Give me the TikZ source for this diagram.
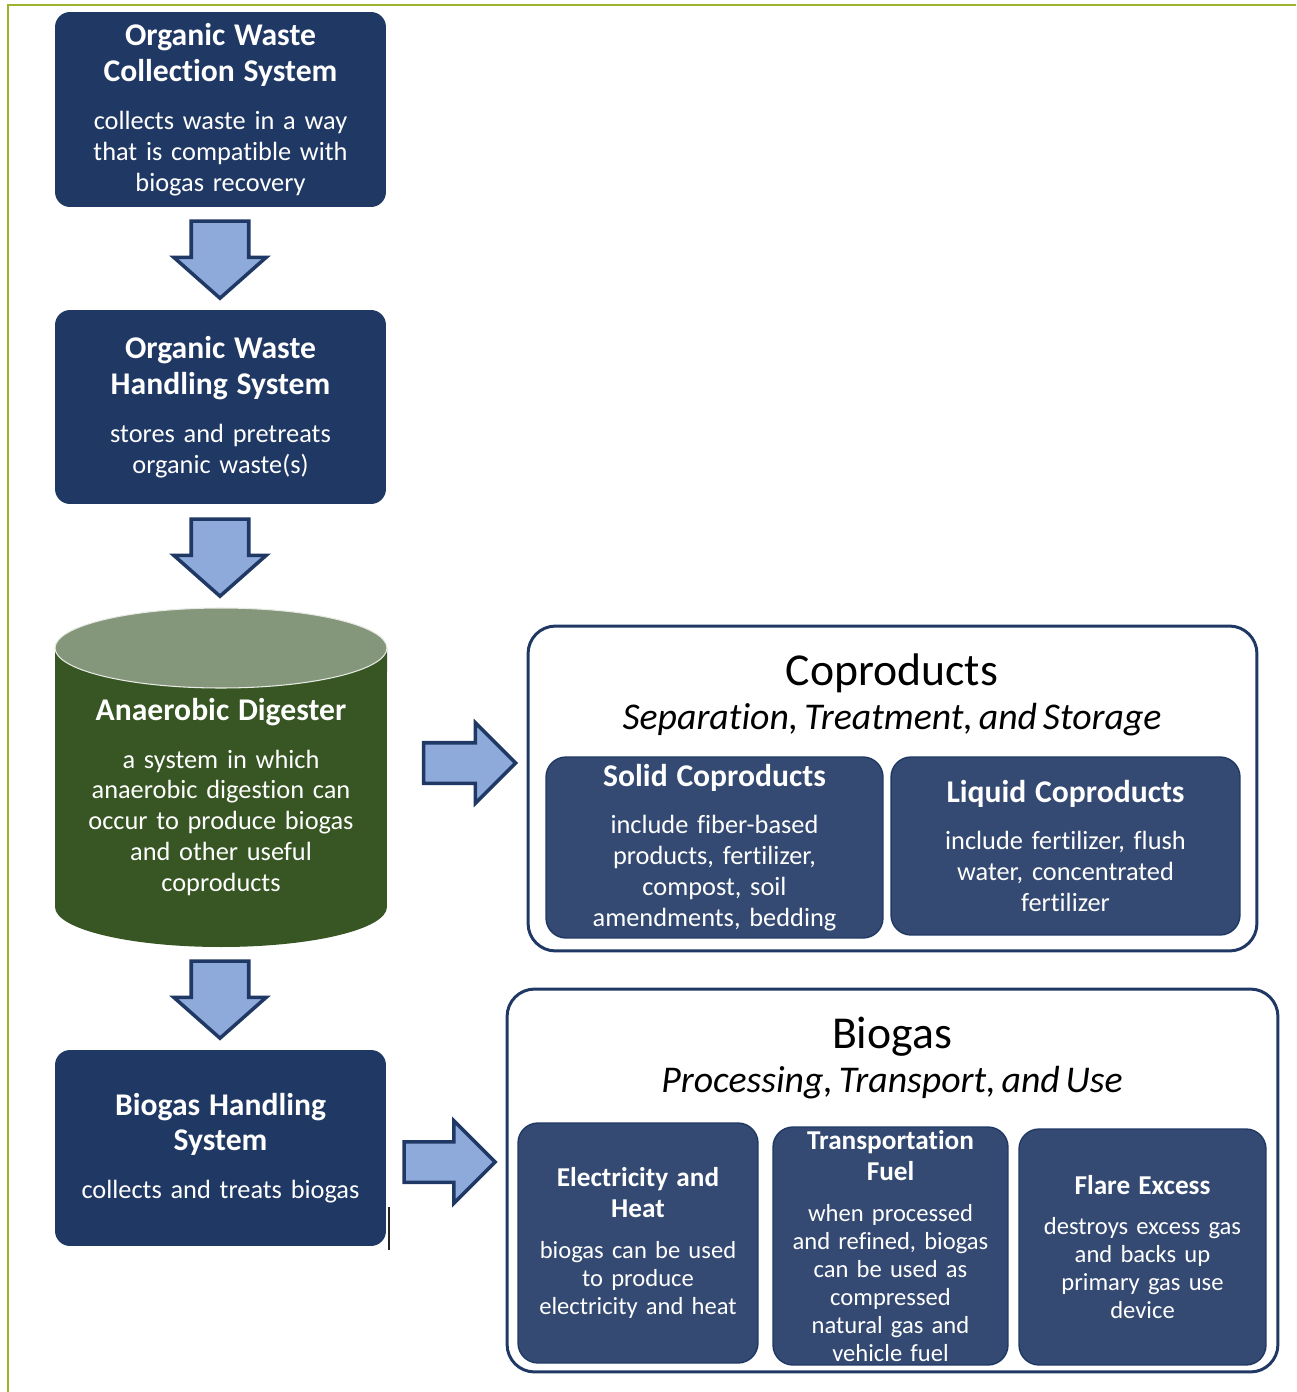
\documentclass[tikz,border=0pt]{standalone}
\usepackage{fontspec}
\setmainfont{Carlito}[Ligatures=NoCommon]
\usetikzlibrary{shapes.arrows}

\definecolor{boxnavy}{HTML}{203864}
\definecolor{subnavy}{HTML}{344A72}
\definecolor{arrowblue}{HTML}{8EAADB}
\definecolor{digbody}{HTML}{375623}
\definecolor{digtop}{HTML}{85977A}
\definecolor{pagegreen}{HTML}{9AB52B}

\newcommand{\bighead}[1]{{\fontsize{18}{20.4}\selectfont\bfseries #1\par}\vspace{9.6pt}}
\newcommand{\smallhead}[1]{{\fontsize{15.5}{17.6}\selectfont\bfseries #1\par}\vspace{7.3pt}}

\begin{document}
\begin{tikzpicture}[x=0.02cm,y=-0.02cm,
  main box/.style={rectangle,rounded corners=0.3cm,fill=boxnavy,text=white,align=center,inner sep=0pt,
    minimum width=6.62cm,text width=6.4cm,font=\fontsize{15}{17.6}\selectfont},
  sub box/.style={rectangle,rounded corners=0.4cm,fill=subnavy,draw=boxnavy,line width=0.8pt,
    text=white,align=center,inner sep=0pt,font=\fontsize{15}{17.6}\selectfont},
  gas box/.style={sub box,font=\fontsize{14}{15.9}\selectfont},
  group box/.style={rectangle,rounded corners=0.55cm,draw=boxnavy,line width=1.7pt},
  group title/.style={align=center,text width=14cm,inner sep=0pt},
  down arrow/.style={single arrow,shape border rotate=270,draw=boxnavy,fill=arrowblue,line width=2pt,
    inner xsep=0.54cm,inner ysep=0pt,minimum height=1.54cm,
    single arrow head extend=0.35cm,single arrow tip angle=97},
  right arrow/.style={single arrow,draw=boxnavy,fill=arrowblue,line width=2pt,
    inner xsep=0pt,inner ysep=0.37cm,single arrow head extend=0.4cm,single arrow tip angle=90}]

  \useasboundingbox (0,0) rectangle (1296,1392);
  \draw[pagegreen,line width=1.2pt] (8,1392) -- (8,5) -- (1296,5);

  % left column
  \node[main box,minimum height=3.9cm] (collect) at (220.5,109.5)
    {\bighead{Organic Waste\\Collection System}collects waste in a way\\that is compatible with\\biogas recovery};
  \node[main box,minimum height=3.88cm] (handle) at (220.5,407)
    {\bighead{Organic Waste\\Handling System}stores and pretreats\\organic waste(s)};

  % digester tank
  \fill[digbody] (55,648) -- (55,907) arc[start angle=180,end angle=360,x radius=3.32cm,y radius=0.8cm]
    -- (387,648) -- cycle;
  \filldraw[fill=digtop,draw=white!80!digtop,line width=0.6pt] (221,648) ellipse[x radius=3.32cm,y radius=0.8cm];
  \node[align=center,text=white,text width=6.4cm,inner sep=0pt,font=\fontsize{15}{17.6}\selectfont] (digest) at (221,797)
    {\bighead{Anaerobic Digester}a system in which\\anaerobic digestion can\\occur to produce biogas\\and other useful\\coproducts};

  \node[main box,minimum height=3.92cm] (gashandle) at (220.5,1148)
    {\bighead{Biogas Handling\\System}collects and treats biogas};
  \draw[black!85,line width=0.7pt] (389,1207) -- (389,1250);

  % block arrows
  \node[down arrow] (arrowA) at (220,247) {};
  \node[down arrow] (arrowB) at (220,545) {};
  \node[down arrow] (arrowC) at (220,987) {};
  \node[right arrow,minimum height=1.84cm] (arrowD) at (459.5,763) {};
  \node[right arrow,minimum height=1.82cm,single arrow head extend=0.42cm] (arrowE) at (439.5,1162) {};

  % coproducts
  \node[group box,minimum width=14.58cm,minimum height=6.5cm] (coprod) at (892.5,788.5) {};
  \node[group title] (coprodtitle) at (892,695)
    {{\fontsize{26}{31}\selectfont Coproducts\par}{\fontsize{21.5}{25}\selectfont\itshape Separation, Treatment, and Storage\par}};
  \node[sub box,minimum width=6.74cm,minimum height=3.62cm,text width=6.5cm] (solid) at (714.5,847.5)
    {\bighead{Solid Coproducts}include fiber-based\\products, fertilizer,\\compost, soil\\amendments, bedding};
  \node[sub box,minimum width=6.98cm,minimum height=3.56cm,text width=6.7cm] (liquid) at (1065.5,846)
    {\bighead{Liquid Coproducts}include fertilizer, flush\\water, concentrated\\fertilizer};

  % biogas use
  \node[group box,minimum width=15.42cm,minimum height=7.66cm] (gasuse) at (892.5,1180.5) {};
  \node[group title] (gasusetitle) at (892,1058)
    {{\fontsize{26}{31}\selectfont Biogas\par}{\fontsize{21.5}{25}\selectfont\itshape Processing, Transport, and Use\par}};
  \node[gas box,minimum width=4.8cm,minimum height=4.8cm,text width=4.6cm] (power) at (638,1243)
    {\smallhead{Electricity and\\Heat}biogas can be used\\to produce\\electricity and heat};
  \node[gas box,minimum width=4.7cm,minimum height=4.76cm,text width=4.6cm] (fuel) at (890.5,1246)
    {\smallhead{Transportation\\Fuel}when processed\\and refined, biogas\\can be used as\\compressed\\natural gas and\\vehicle fuel};
  \node[gas box,minimum width=4.94cm,minimum height=4.72cm,text width=4.7cm] (flare) at (1142.5,1247)
    {\smallhead{Flare Excess}destroys excess gas\\and backs up\\primary gas use\\device};
\end{tikzpicture}
\end{document}
